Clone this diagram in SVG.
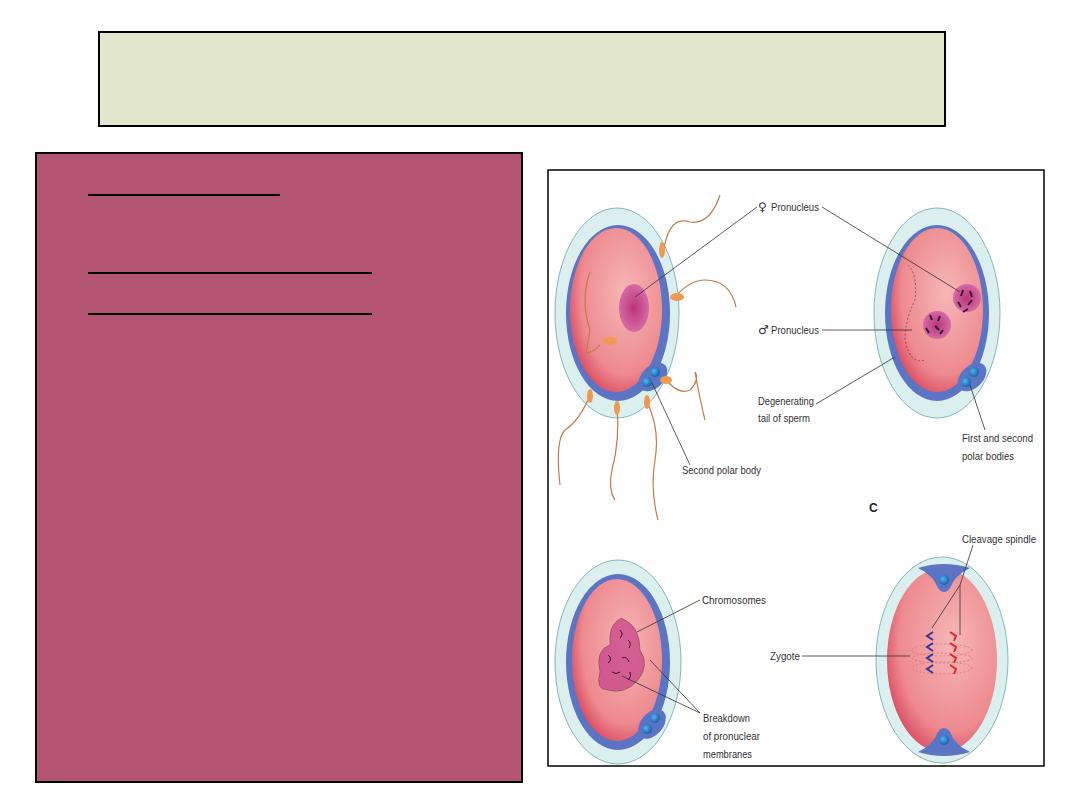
<svg xmlns="http://www.w3.org/2000/svg" width="1080" height="810" viewBox="0 0 1080 810">
<defs>
<radialGradient id="cyto" cx="0.6" cy="0.4" r="0.7"><stop offset="0" stop-color="#f6b6b6"/><stop offset="0.7" stop-color="#ee8a8f"/><stop offset="1" stop-color="#d43b55"/></radialGradient>
<radialGradient id="nuc" cx="0.5" cy="0.5" r="0.5"><stop offset="0" stop-color="#b8357a"/><stop offset="1" stop-color="#d66aa5"/></radialGradient>
<radialGradient id="pb" cx="0.4" cy="0.4" r="0.6"><stop offset="0" stop-color="#5ab0f0"/><stop offset="1" stop-color="#1565b0"/></radialGradient>
</defs>
<style>
.lbl{font-family:"Liberation Sans",Arial,sans-serif;font-size:11px;fill:#333}
.sym{font-family:"DejaVu Sans",sans-serif;font-size:12px;fill:#333}
.ld{stroke:#333;stroke-width:0.8;fill:none}
.zona{fill:#dcefef;stroke:#6aa;stroke-width:0.8}
.mem{fill:#5b74c4}
.tail{fill:none;stroke:#c77a4a;stroke-width:1.2}
.head{fill:#f09a50}
.chr{fill:none;stroke:#3a1030;stroke-width:2}
</style>
<rect width="1080" height="810" fill="#fff"/>
<rect x="99" y="32" width="846" height="94" fill="#e1e6cd" stroke="#000" stroke-width="2"/>
<rect x="36" y="153" width="486" height="629" fill="#b35472" stroke="#000" stroke-width="2"/>
<g stroke="#000" stroke-width="2"><line x1="88" y1="195" x2="280" y2="195"/><line x1="88" y1="273" x2="372" y2="273"/><line x1="88" y1="314" x2="372" y2="314"/></g>
<rect x="548" y="170" width="496" height="596" fill="#fff" stroke="#000" stroke-width="1.5"/>
<g id="cell1">
<ellipse class="zona" cx="617" cy="313" rx="62" ry="105"/>
<ellipse class="mem" cx="618" cy="313" rx="52" ry="88"/>
<ellipse cx="616" cy="310" rx="46" ry="82" fill="url(#cyto)"/>
<ellipse class="mem" cx="653" cy="377" rx="17" ry="11" transform="rotate(-45 653 377)"/>
<circle cx="655" cy="372" r="5" fill="url(#pb)"/><circle cx="647" cy="382" r="5" fill="url(#pb)"/>
<ellipse cx="634" cy="308" rx="15" ry="24" fill="url(#nuc)"/>
<path class="tail" d="M590 272 Q580 300 590 330 Q585 360 586 352 Q590 355 600 345"/><ellipse class="head" cx="610" cy="341" rx="7" ry="4"/>
<path class="tail" d="M664 248 Q670 215 690 222 Q710 225 720 195"/><ellipse class="head" cx="662" cy="250" rx="3" ry="8"/>
<path class="tail" d="M676 296 Q690 280 705 280 Q730 280 736 307"/><ellipse class="head" cx="677" cy="297" rx="7" ry="4"/>
<path class="tail" d="M668 382 Q680 395 690 390 Q700 380 695 372 Q700 400 705 420"/><ellipse class="head" cx="666" cy="380" rx="6" ry="4"/>
<path class="tail" d="M590 395 Q580 420 565 430 Q555 440 560 485"/><ellipse class="head" cx="590" cy="396" rx="3" ry="7"/>
<path class="tail" d="M617 406 Q620 440 612 470 Q608 490 615 500"/><ellipse class="head" cx="617" cy="408" rx="3" ry="7"/>
<path class="tail" d="M648 404 Q660 430 655 460 Q650 490 658 520"/><ellipse class="head" cx="647" cy="402" rx="3" ry="7"/>
</g>
<g id="cell2">
<ellipse class="zona" cx="937" cy="313" rx="63" ry="105"/>
<ellipse class="mem" cx="937" cy="313" rx="52" ry="88"/>
<ellipse cx="937" cy="310" rx="46" ry="82" fill="url(#cyto)"/>
<ellipse class="mem" cx="972" cy="377" rx="17" ry="11" transform="rotate(-45 972 377)"/>
<circle cx="974" cy="372" r="5" fill="url(#pb)"/><circle cx="966" cy="382" r="5" fill="url(#pb)"/>
<path d="M908 265 Q918 275 915 300 Q905 320 905 340 Q910 365 925 360" fill="none" stroke="#733" stroke-width="0.7" stroke-dasharray="2,2"/>
<circle cx="967" cy="298" r="14" fill="url(#nuc)"/>
<circle cx="937" cy="325" r="14" fill="url(#nuc)"/>
<path class="chr" d="M963 290 l-2 6 M970 291 l2 6 M958 302 l3 5 M968 305 l4 -5 M963 312 l5 -3"/>
<path class="chr" d="M930 315 l2 5 M940 316 l-2 5 M935 326 l4 4 M926 328 l3 5 M943 330 l-3 4"/>
</g>
<g id="cell3">
<ellipse class="zona" cx="618" cy="662" rx="63" ry="102"/>
<ellipse class="mem" cx="618" cy="662" rx="52" ry="88"/>
<ellipse cx="617" cy="660" rx="45" ry="81" fill="url(#cyto)"/>
<ellipse class="mem" cx="652" cy="724" rx="17" ry="11" transform="rotate(-50 652 724)"/>
<circle cx="655" cy="718" r="5" fill="url(#pb)"/><circle cx="647" cy="729" r="5" fill="url(#pb)"/>
<path d="M621 618 Q640 625 640 650 Q650 665 638 680 Q625 695 608 690 Q595 690 600 672 Q595 650 610 645 Q608 625 621 618Z" fill="#c8448a" opacity="0.75" stroke="#522" stroke-width="0.5"/>
<path class="chr" style="stroke-width:1" d="M620 630 q4 4 0 8 M628 640 q4 3 1 8 M608 655 q5 4 0 8 M622 658 q5 -2 7 4 M612 672 q4 3 8 0 M630 672 q2 5 -2 8"/>
</g>
<g id="cell4">
<ellipse class="zona" cx="942" cy="660" rx="66" ry="103"/>
<ellipse cx="942" cy="660" rx="55" ry="92" fill="url(#cyto)"/>
<path class="mem" d="M918 568 Q944 560 970 568 Q955 575 950 588 Q944 596 938 588 Q933 575 918 568Z"/>
<path class="mem" d="M918 752 Q944 760 970 752 Q955 745 950 732 Q944 724 938 732 Q933 745 918 752Z"/>
<circle cx="944" cy="580" r="5" fill="url(#pb)"/><circle cx="944" cy="740" r="5" fill="url(#pb)"/>
<g fill="none" stroke="#c66" stroke-width="0.6" stroke-dasharray="2,2"><ellipse cx="942" cy="650" rx="30" ry="6"/><ellipse cx="942" cy="658" rx="30" ry="5"/><ellipse cx="942" cy="668" rx="30" ry="6"/></g>
<path d="M933 632 l-6 4 l6 4 M933 643 l-6 4 l6 4 M933 654 l-6 4 l6 4 M933 665 l-6 4 l6 4" fill="none" stroke="#2a3aa0" stroke-width="2"/>
<path d="M950 632 l6 4 l-2 5 M950 643 l6 4 l-2 5 M950 654 l6 4 l-2 5 M950 665 l6 4 l-2 5" fill="none" stroke="#e02828" stroke-width="2"/>
</g>
<g id="connectors">
<path class="ld" d="M757 207 L635 297"/>
<path class="ld" d="M822 207 L960 292"/>
<path class="ld" d="M822 330 L912 330"/>
<path class="ld" d="M816 404 L895 357"/>
<path class="ld" d="M985 430 L970 385"/>
<path class="ld" d="M690 465 L652 383"/>
<path class="ld" d="M700 600 L637 632"/>
<path class="ld" d="M700 713 L622 676 M700 713 L650 660"/>
<path class="ld" d="M802 656 L910 656"/>
<path class="ld" d="M973 545 L960 585 L932 628 M960 585 L960 635"/>
</g>
<g id="labels">
<text class="sym" x="758" y="211">♀</text><text class="lbl" x="771" y="211" textLength="48" lengthAdjust="spacingAndGlyphs">Pronucleus</text>
<text class="sym" x="758" y="334">♂</text><text class="lbl" x="771" y="334" textLength="48" lengthAdjust="spacingAndGlyphs">Pronucleus</text>
<text class="lbl" x="758" y="405" textLength="56" lengthAdjust="spacingAndGlyphs">Degenerating</text>
<text class="lbl" x="758" y="422" textLength="52" lengthAdjust="spacingAndGlyphs">tail of sperm</text>
<text class="lbl" x="962" y="442" textLength="71" lengthAdjust="spacingAndGlyphs">First and second</text>
<text class="lbl" x="962" y="460" textLength="52" lengthAdjust="spacingAndGlyphs">polar bodies</text>
<text class="lbl" x="682" y="474" textLength="79" lengthAdjust="spacingAndGlyphs">Second polar body</text>
<text x="869" y="512" style="font-family:'Liberation Sans',Arial,sans-serif;font-size:12px;font-weight:bold;fill:#222">C</text>
<text class="lbl" x="962" y="543" textLength="74" lengthAdjust="spacingAndGlyphs">Cleavage spindle</text>
<text class="lbl" x="702" y="604" textLength="64" lengthAdjust="spacingAndGlyphs">Chromosomes</text>
<text class="lbl" x="770" y="660" textLength="30" lengthAdjust="spacingAndGlyphs">Zygote</text>
<text class="lbl" x="703" y="722" textLength="47" lengthAdjust="spacingAndGlyphs">Breakdown</text>
<text class="lbl" x="703" y="740" textLength="57" lengthAdjust="spacingAndGlyphs">of pronuclear</text>
<text class="lbl" x="703" y="758" textLength="49" lengthAdjust="spacingAndGlyphs">membranes</text>
</g>
</svg>
